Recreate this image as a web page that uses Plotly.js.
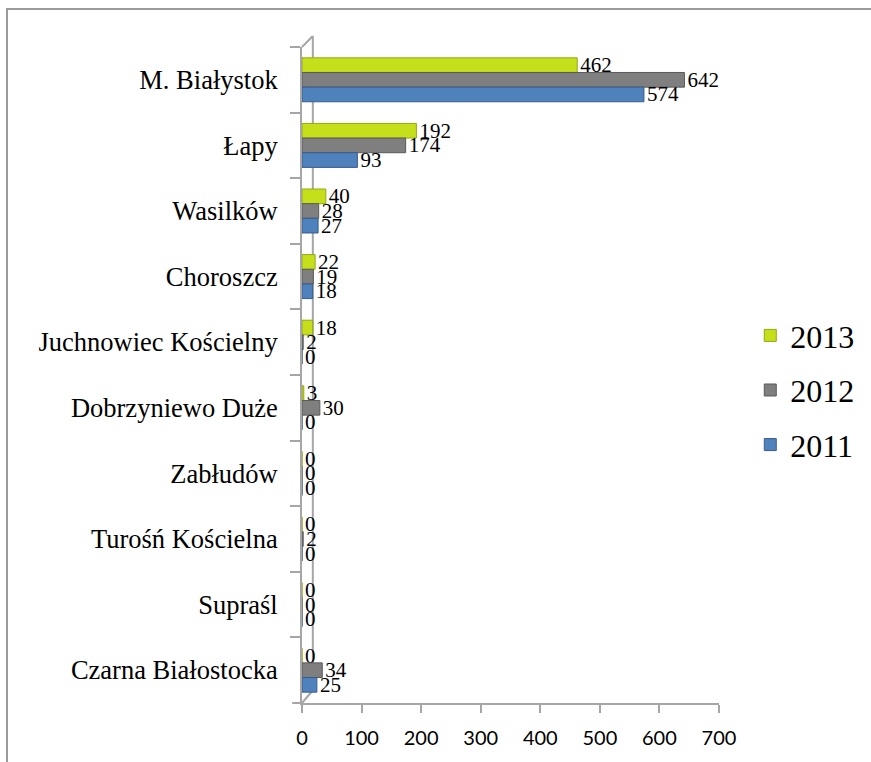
<!DOCTYPE html>
<html>
<head>
<meta charset="utf-8">
<script src="https://cdn.plot.ly/plotly-3.0.1.min.js"></script>
<style>
  html, body { margin: 0; padding: 0; background: #fff; overflow: hidden; }
  #chart { position: absolute; left: 0; top: 0; width: 871px; height: 762px; }
  #frame { position: absolute; left: 6px; top: 8px; width: 900px; height: 800px;
           border-left: 2px solid #9a9a9a; border-top: 2px solid #9a9a9a; pointer-events: none; }
</style>
</head>
<body>
<div id="chart"></div>
<div id="frame"></div>
<script>
const categories = ["M. Białystok", "Łapy", "Wasilków", "Choroszcz", "Juchnowiec Kościelny",
  "Dobrzyniewo Duże", "Zabłudów", "Turośń Kościelna", "Supraśl", "Czarna Białostocka"];
const values2013 = [462, 192, 40, 22, 18, 3, 0, 0, 0, 0];
const values2012 = [642, 174, 28, 19, 2, 30, 0, 2, 0, 34];
const values2011 = [574, 93, 27, 18, 0, 0, 0, 0, 0, 25];
const seriesNames = ["2013", "2012", "2011"];
const xTicks = [0, 100, 200, 300, 400, 500, 600, 700];

const colors = ["#c5df1a", "#7f7f7f", "#4f81bd"];
const lineColors = ["#93a812", "#5a5a5a", "#385d8a"];
const serif = "Liberation Serif, Times New Roman, serif";

function mk(vals, i) {
  return {
    type: "bar", orientation: "h",
    y: categories, x: vals, name: seriesNames[i],
    legendgroup: "g" + i,
    marker: { color: colors[i], line: { color: lineColors[i], width: 1 } },
    text: vals.map(String), textposition: "outside", constraintext: "none",
    textfont: { family: serif, size: 21, color: "#000" },
    outsidetextfont: { family: serif, size: 21, color: "#000" },
    cliponaxis: false, hoverinfo: "x+y"
  };
}

const data = [mk(values2013, 0), mk(values2012, 1), mk(values2011, 2)];

const px = p => (p - 302) / 424;
const py = p => (703 - p) / 656;
const wall = { color: "#a6a6a6", width: 2 };

const layout = {
  width: 871, height: 762,
  margin: { l: 302, r: 145, t: 47, b: 59 },
  paper_bgcolor: "#fff", plot_bgcolor: "#fff",
  barmode: "group", bargap: 0.33, bargroupgap: 0,
  showlegend: true,
  legend: {
    x: 1.075, xanchor: "left", y: 0.477, yanchor: "middle",
    font: { family: serif, size: 32, color: "#000" },
    traceorder: "grouped", tracegroupgap: 10,
    bgcolor: "rgba(0,0,0,0)"
  },
  xaxis: {
    range: [0, 700], tickvals: xTicks, ticktext: xTicks.map(String),
    showgrid: false, zeroline: false,
    showline: true, linecolor: "#a6a6a6", linewidth: 2,
    ticks: "outside", ticklen: 8, tickcolor: "#a6a6a6", tickwidth: 2,
    ticklabelstandoff: 8,
    tickfont: { family: "Lato, Carlito, Calibri, sans-serif", size: 20, color: "#000" },
    fixedrange: true
  },
  yaxis: {
    type: "category", autorange: "reversed",
    showgrid: false, zeroline: false,
    showline: true, linecolor: "#a6a6a6", linewidth: 2,
    ticks: "outside", tickson: "boundaries", ticklen: 10, tickcolor: "#a6a6a6", tickwidth: 2,
    ticklabelstandoff: 17,
    tickfont: { family: serif, size: 26.5, color: "#000" },
    fixedrange: true
  },
  shapes: [
    { type: "line", xref: "paper", yref: "paper", x0: px(302), y0: py(47), x1: px(313), y1: py(36), line: wall, layer: "below" },
    { type: "line", xref: "paper", yref: "paper", x0: px(313), y0: py(36), x1: px(313), y1: py(688), line: wall, layer: "below" },
    { type: "line", xref: "paper", yref: "paper", x0: px(302), y0: py(703), x1: px(315), y1: py(688), line: wall, layer: "below" },
    { type: "line", xref: "paper", yref: "paper", x0: px(292), y0: py(703), x1: px(302), y1: py(703), line: wall, layer: "below" }
  ]
};

Plotly.newPlot("chart", data, layout, { displayModeBar: false, staticPlot: true });
</script>
</body>
</html>
